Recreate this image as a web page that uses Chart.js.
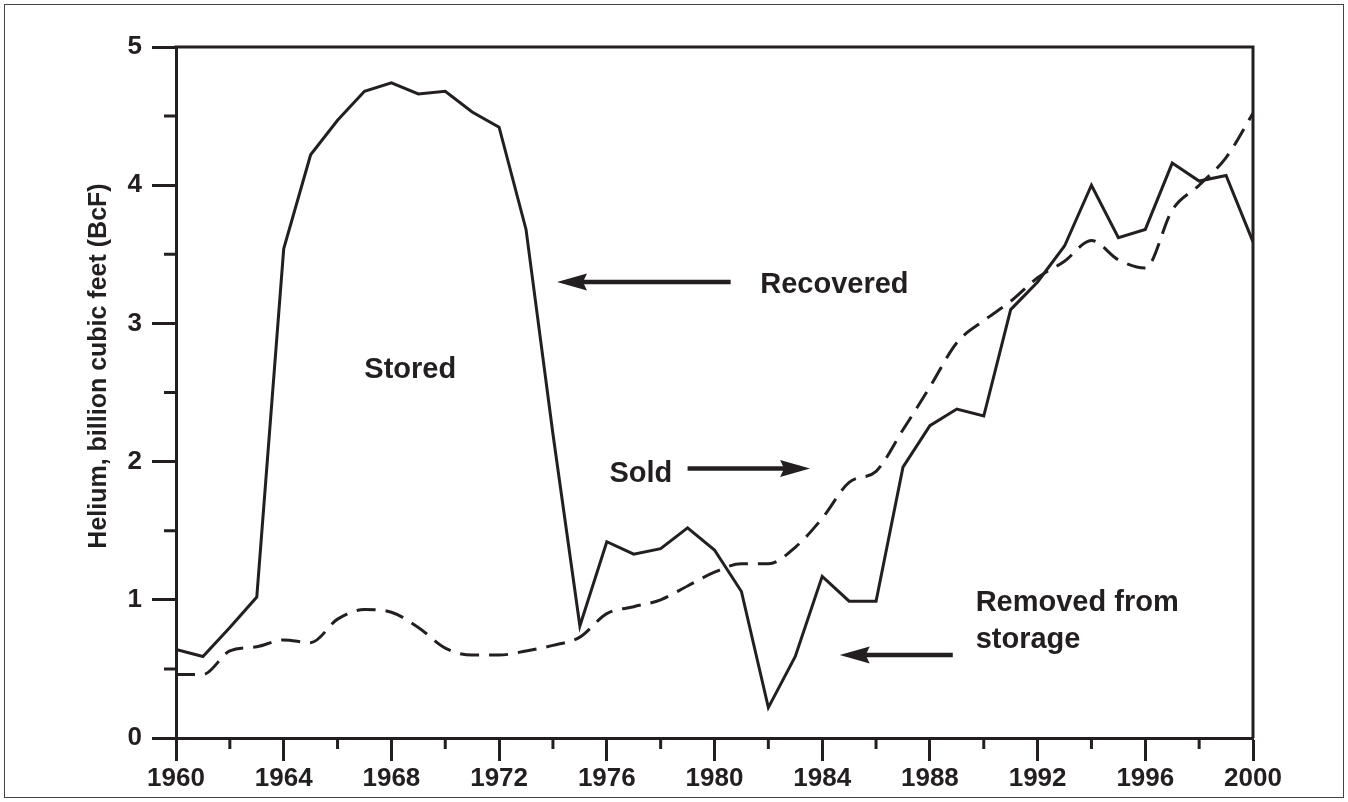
<!DOCTYPE html>
<html>
<head>
<meta charset="utf-8">
<title>Helium recovered and sold</title>
<script src="https://cdn.jsdelivr.net/npm/chart.js@4.4.1/dist/chart.umd.min.js"></script>
<style>
    html, body { margin: 0; padding: 0; background: #fff; }
    #wrap { position: relative; width: 1348px; height: 802px; }
    #frame { position: absolute; left: 4px; top: 4px; width: 1340px; height: 794px; border: 1.5px solid #444; box-sizing: border-box; pointer-events: none; }
</style>
</head>
<body>
<div id="wrap">
    <canvas id="heliumChart" width="1348" height="802"></canvas>
    <div id="frame"></div>
</div>
<script>
// DADOS
const years = [1960, 1961, 1962, 1963, 1964, 1965, 1966, 1967, 1968, 1969,
               1970, 1971, 1972, 1973, 1974, 1975, 1976, 1977, 1978, 1979,
               1980, 1981, 1982, 1983, 1984, 1985, 1986, 1987, 1988, 1989,
               1990, 1991, 1992, 1993, 1994, 1995, 1996, 1997, 1998, 1999, 2000];
const recovered = [0.64, 0.59, 0.80, 1.02, 3.54, 4.22, 4.47, 4.68, 4.74, 4.66,
                   4.68, 4.53, 4.42, 3.68, 2.20, 0.81, 1.42, 1.33, 1.37, 1.52,
                   1.36, 1.06, 0.22, 0.59, 1.17, 0.99, 0.99, 1.96, 2.26, 2.38,
                   2.33, 3.10, 3.30, 3.56, 4.00, 3.62, 3.68, 4.16, 4.03, 4.07, 3.59];
const sold = [0.46, 0.46, 0.63, 0.66, 0.71, 0.69, 0.86, 0.93, 0.91, 0.80,
              0.65, 0.60, 0.60, 0.63, 0.67, 0.73, 0.90, 0.95, 1.00, 1.10,
              1.20, 1.26, 1.26, 1.38, 1.59, 1.85, 1.93, 2.23, 2.54, 2.86,
              3.02, 3.16, 3.33, 3.45, 3.60, 3.46, 3.40, 3.82, 4.00, 4.20, 4.52];
const xTicks = [1960, 1964, 1968, 1972, 1976, 1980, 1984, 1988, 1992, 1996, 2000];
const yTicks = [0, 1, 2, 3, 4, 5];
const yTitle = 'Helium, billion cubic feet (BcF)';

// ANOTAÇÕES (coordenadas em unidades dos eixos)
const notes = [
    { text: 'Recovered', x: 1981.7, y: 3.28, align: 'left' },
    { text: 'Stored', x: 1968.7, y: 2.66, align: 'center' },
    { text: 'Sold', x: 1976.1, y: 1.91, align: 'left' },
    { text: 'Removed from', x: 1989.7, y: 0.98, align: 'left' },
    { text: 'storage', x: 1989.7, y: 0.71, align: 'left' }
];
const arrows = [
    { from: [1980.6, 3.30], to: [1974.15, 3.30] },
    { from: [1979.0, 1.95], to: [1983.55, 1.95] },
    { from: [1988.85, 0.60], to: [1984.65, 0.60] }
];

const INK = '#231f20';
const FONT = "'Liberation Sans', Arial, Helvetica, sans-serif";

// PLUGIN: caixa, marcas menores, título do eixo e anotações
const decorations = {
    id: 'decorations',
    afterDraw(chart) {
        const { ctx, chartArea: a, scales: { x, y } } = chart;
        ctx.save();
        ctx.strokeStyle = INK;
        ctx.fillStyle = INK;
        ctx.lineWidth = 3;

        // lados de cima e direita
        ctx.beginPath();
        ctx.moveTo(a.left - 1.5, a.top);
        ctx.lineTo(a.right, a.top);
        ctx.lineTo(a.right, a.bottom);
        ctx.stroke();

        // marcas menores
        ctx.beginPath();
        for (let i = 0; i < xTicks.length - 1; i++) {
            const px = x.getPixelForValue((xTicks[i] + xTicks[i + 1]) / 2);
            ctx.moveTo(px, a.bottom);
            ctx.lineTo(px, a.bottom + 11);
        }
        for (let i = 0; i < yTicks.length - 1; i++) {
            const py = y.getPixelForValue((yTicks[i] + yTicks[i + 1]) / 2);
            ctx.moveTo(a.left, py);
            ctx.lineTo(a.left - 12, py);
        }
        ctx.stroke();

        // título do eixo y
        ctx.save();
        ctx.translate(99, 366);
        ctx.rotate(-Math.PI / 2);
        ctx.font = `bold 25px ${FONT}`;
        ctx.textAlign = 'center';
        ctx.textBaseline = 'middle';
        ctx.fillText(yTitle, 0, 0);
        ctx.restore();

        // textos
        ctx.font = `bold 29px ${FONT}`;
        ctx.textBaseline = 'middle';
        notes.forEach(n => {
            ctx.textAlign = n.align;
            ctx.fillText(n.text, x.getPixelForValue(n.x), y.getPixelForValue(n.y));
        });

        // setas
        arrows.forEach(ar => {
            const x0 = x.getPixelForValue(ar.from[0]), y0 = y.getPixelForValue(ar.from[1]);
            const x1 = x.getPixelForValue(ar.to[0]), y1 = y.getPixelForValue(ar.to[1]);
            const dir = Math.sign(x1 - x0);
            const head = 30;
            ctx.lineWidth = 4.5;
            ctx.beginPath();
            ctx.moveTo(x0, y0);
            ctx.lineTo(x1 - dir * (head - 4), y1);
            ctx.stroke();
            ctx.beginPath();
            ctx.moveTo(x1, y1);
            ctx.lineTo(x1 - dir * head, y1 - 8.5);
            ctx.lineTo(x1 - dir * (head - 4), y1);
            ctx.lineTo(x1 - dir * head, y1 + 8.5);
            ctx.closePath();
            ctx.fill();
        });
        ctx.restore();
    }
};

const ctx = document.getElementById('heliumChart').getContext('2d');
const chart = new Chart(ctx, {
    type: 'line',
    data: {
        labels: years,
        datasets: [
            {
                label: 'Recovered',
                data: years.map((yr, i) => ({ x: yr, y: recovered[i] })),
                borderColor: INK, borderWidth: 3, pointRadius: 0, tension: 0, fill: false
            },
            {
                label: 'Sold',
                data: years.map((yr, i) => ({ x: yr, y: sold[i] })),
                borderColor: INK, borderWidth: 3, borderDash: [19, 10], pointRadius: 0,
                cubicInterpolationMode: 'monotone', fill: false
            }
        ]
    },
    options: {
        responsive: false,
        animation: false,
        layout: { padding: { top: 47, right: 95, left: 0, bottom: 0 } },
        plugins: { legend: { display: false }, tooltip: { enabled: false } },
        scales: {
            x: {
                type: 'linear', min: 1960, max: 2000,
                afterFit: s => { s.height = 64; },
                afterBuildTicks: s => { s.ticks = xTicks.map(v => ({ value: v })); },
                border: { display: true, color: INK, width: 3 },
                grid: { drawOnChartArea: false, drawTicks: true, tickLength: 23, tickWidth: 3, tickColor: INK },
                ticks: { color: INK, padding: 2, maxRotation: 0, autoSkip: false, font: { family: FONT, size: 26, weight: 'bold' }, callback: v => String(v) }
            },
            y: {
                min: 0, max: 5,
                afterFit: s => { s.width = 176; },
                afterBuildTicks: s => { s.ticks = yTicks.map(v => ({ value: v })); },
                border: { display: true, color: INK, width: 3 },
                grid: { drawOnChartArea: false, drawTicks: true, tickLength: 24, tickWidth: 3, tickColor: INK },
                ticks: { color: INK, padding: 10, font: { family: FONT, size: 26, weight: 'bold' } }
            }
        }
    },
    plugins: [decorations]
});
</script>
</body>
</html>
